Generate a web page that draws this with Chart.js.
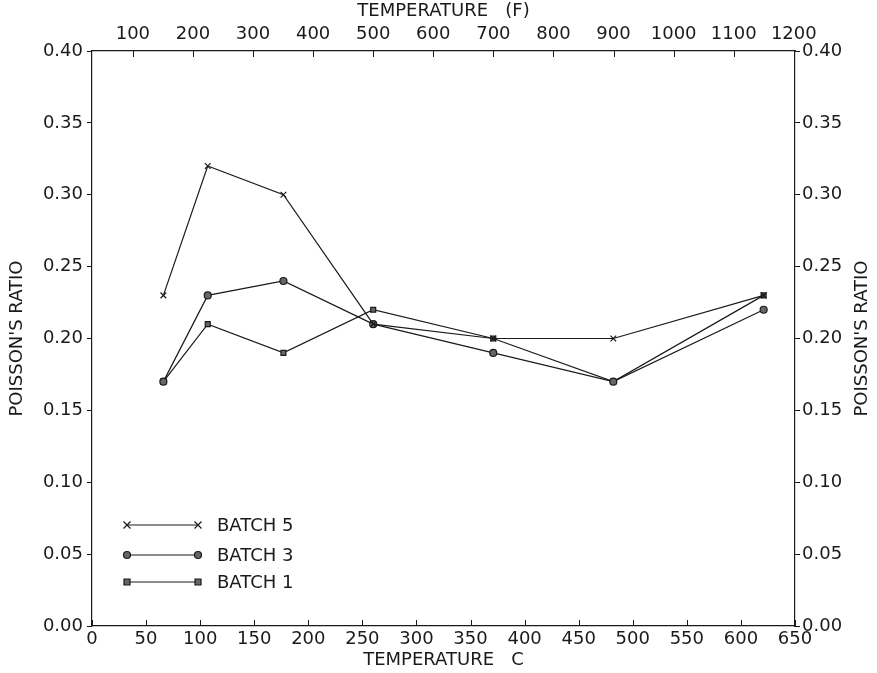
<!DOCTYPE html>
<html>
<head>
<meta charset="utf-8">
<script src="https://cdn.jsdelivr.net/npm/chart.js@4"></script>
<style>
  html, body { margin: 0; padding: 0; background: #fff; }
  #wrap { width: 877px; height: 673px; }
</style>
</head>
<body>
<div id="wrap"><canvas id="grafico"></canvas></div>
<script>
// temperatura en C (eje inferior)
var tempC = [66, 107, 177, 260, 371, 482, 621];
// Poisson's ratio por lote
var batch5 = [0.23, 0.32, 0.30, 0.21, 0.20, 0.20, 0.23];
var batch3 = [0.17, 0.23, 0.24, 0.21, 0.19, 0.17, 0.22];
var batch1 = [0.17, 0.21, 0.19, 0.22, 0.20, 0.17, 0.23];
// marcas del eje superior en F
var ticksF = [100, 200, 300, 400, 500, 600, 700, 800, 900, 1000, 1100, 1200];

var tinta = '#1a1a1a';
var fuente = { family: 'DejaVu Sans', size: 18 };

function puntos(vals) {
  return tempC.map(function (c, i) { return { x: c, y: vals[i] }; });
}

function serie(label, vals, estilo, radio) {
  return {
    label: label,
    data: puntos(vals),
    borderColor: tinta,
    backgroundColor: '#555',
    borderWidth: 1.2,
    pointStyle: estilo,
    pointRadius: radio,
    pointBorderColor: tinta,
    pointBorderWidth: 1.2,
    pointBackgroundColor: '#666',
    tension: 0
  };
}

// ticks hacia dentro en los ejes x
var ticksDentro = {
  id: 'ticksDentro',
  afterDraw: function (chart) {
    var ctx = chart.ctx, a = chart.chartArea;
    ctx.save();
    ctx.strokeStyle = tinta;
    ctx.lineWidth = 1;
    [['x', a.bottom, -1], ['x2', a.top, 1]].forEach(function (d) {
      var sc = chart.scales[d[0]];
      sc.ticks.forEach(function (t) {
        var px = Math.round(sc.getPixelForValue(t.value)) + 0.5;
        ctx.beginPath();
        ctx.moveTo(px, d[1]);
        ctx.lineTo(px, d[1] + d[2] * 6);
        ctx.stroke();
      });
    });
    ctx.restore();
  }
};

function marca(ctx, tipo, x, y) {
  ctx.beginPath();
  if (tipo === 'crossRot') {
    ctx.moveTo(x - 3.5, y - 3.5); ctx.lineTo(x + 3.5, y + 3.5);
    ctx.moveTo(x - 3.5, y + 3.5); ctx.lineTo(x + 3.5, y - 3.5);
    ctx.stroke();
  } else if (tipo === 'circle') {
    ctx.arc(x, y, 3.5, 0, Math.PI * 2);
    ctx.fill(); ctx.stroke();
  } else {
    ctx.rect(x - 3, y - 3, 6, 6);
    ctx.fill(); ctx.stroke();
  }
}

// leyenda dentro del area y titulo derecho
var leyenda = {
  id: 'leyenda',
  afterDraw: function (chart) {
    var ctx = chart.ctx, a = chart.chartArea;
    ctx.save();
    ctx.strokeStyle = tinta;
    ctx.fillStyle = '#666';
    ctx.lineWidth = 1.2;
    var filas = [101, 71, 44];
    chart.data.datasets.forEach(function (ds, i) {
      var y = a.bottom - filas[i];
      var x0 = a.left + 35, x1 = a.left + 106;
      ctx.strokeStyle = tinta;
      ctx.beginPath(); ctx.moveTo(x0, y); ctx.lineTo(x1, y); ctx.stroke();
      ctx.fillStyle = '#666';
      marca(ctx, ds.pointStyle, x0, y);
      marca(ctx, ds.pointStyle, x1, y);
      ctx.fillStyle = tinta;
      ctx.font = '18px "DejaVu Sans"';
      ctx.textBaseline = 'middle';
      ctx.textAlign = 'left';
      ctx.fillText(ds.label, a.left + 125, y + 1);
    });
    // titulo del eje derecho, leyendo de abajo hacia arriba
    ctx.translate(862, (a.top + a.bottom) / 2);
    ctx.rotate(-Math.PI / 2);
    ctx.textAlign = 'center';
    ctx.textBaseline = 'middle';
    ctx.fillStyle = tinta;
    ctx.font = '18px "DejaVu Sans"';
    ctx.fillText("POISSON'S RATIO", 0, 0);
    ctx.restore();
  }
};

var ctx1 = document.getElementById('grafico').getContext('2d');
var grafico = new Chart(ctx1, {
  type: 'line',
  data: {
    datasets: [
      serie('BATCH 5', batch5, 'crossRot', 4),
      serie('BATCH 3', batch3, 'circle', 3.5),
      serie('BATCH 1', batch1, 'rect', 3.5)
    ]
  },
  options: {
    responsive: true,
    maintainAspectRatio: false,
    animation: false,
    layout: { padding: 0 },
    plugins: { legend: { display: false }, tooltip: { enabled: false } },
    scales: {
      x: {
        type: 'linear', position: 'bottom', min: 0, max: 650,
        afterFit: function (s) { s.height = 47; },
        ticks: { stepSize: 50, color: tinta, font: fuente, padding: 3, maxRotation: 0, autoSkip: false },
        grid: { drawOnChartArea: false, drawTicks: false },
        border: { color: tinta, width: 1.2 },
        title: { display: true, text: 'TEMPERATURE   C', color: tinta, font: fuente, padding: { top: 0, bottom: 2 } }
      },
      x2: {
        type: 'linear', position: 'top', min: 0, max: 650,
        afterFit: function (s) { s.height = 51; },
        afterBuildTicks: function (s) {
          s.ticks = ticksF.map(function (f) { return { value: (f - 32) * 5 / 9 }; });
        },
        ticks: {
          color: tinta, font: fuente, padding: 6, maxRotation: 0, autoSkip: false,
          callback: function (v) { return Math.round(v * 9 / 5 + 32); }
        },
        grid: { drawOnChartArea: false, drawTicks: false },
        border: { color: tinta, width: 1.2 },
        title: { display: true, text: 'TEMPERATURE   (F)', color: tinta, font: fuente, padding: { top: 1, bottom: 0 } }
      },
      y: {
        position: 'left', min: 0, max: 0.4,
        afterFit: function (s) { s.width = 92; },
        ticks: { stepSize: 0.05, color: tinta, font: fuente, padding: 4, callback: function (v) { return v.toFixed(2); } },
        grid: { drawOnChartArea: false, tickLength: 5, color: tinta },
        border: { color: tinta, width: 1.2 },
        title: { display: true, text: "POISSON'S RATIO", color: tinta, font: fuente, padding: { top: 7, bottom: 0 } }
      },
      y2: {
        position: 'right', min: 0, max: 0.4,
        afterFit: function (s) { s.width = 82; },
        ticks: { stepSize: 0.05, color: tinta, font: fuente, padding: 2, callback: function (v) { return v.toFixed(2); } },
        grid: { drawOnChartArea: false, tickLength: 5, color: tinta },
        border: { color: tinta, width: 1.2 }
      }
    }
  },
  plugins: [ticksDentro, leyenda]
});
</script>
</body>
</html>
